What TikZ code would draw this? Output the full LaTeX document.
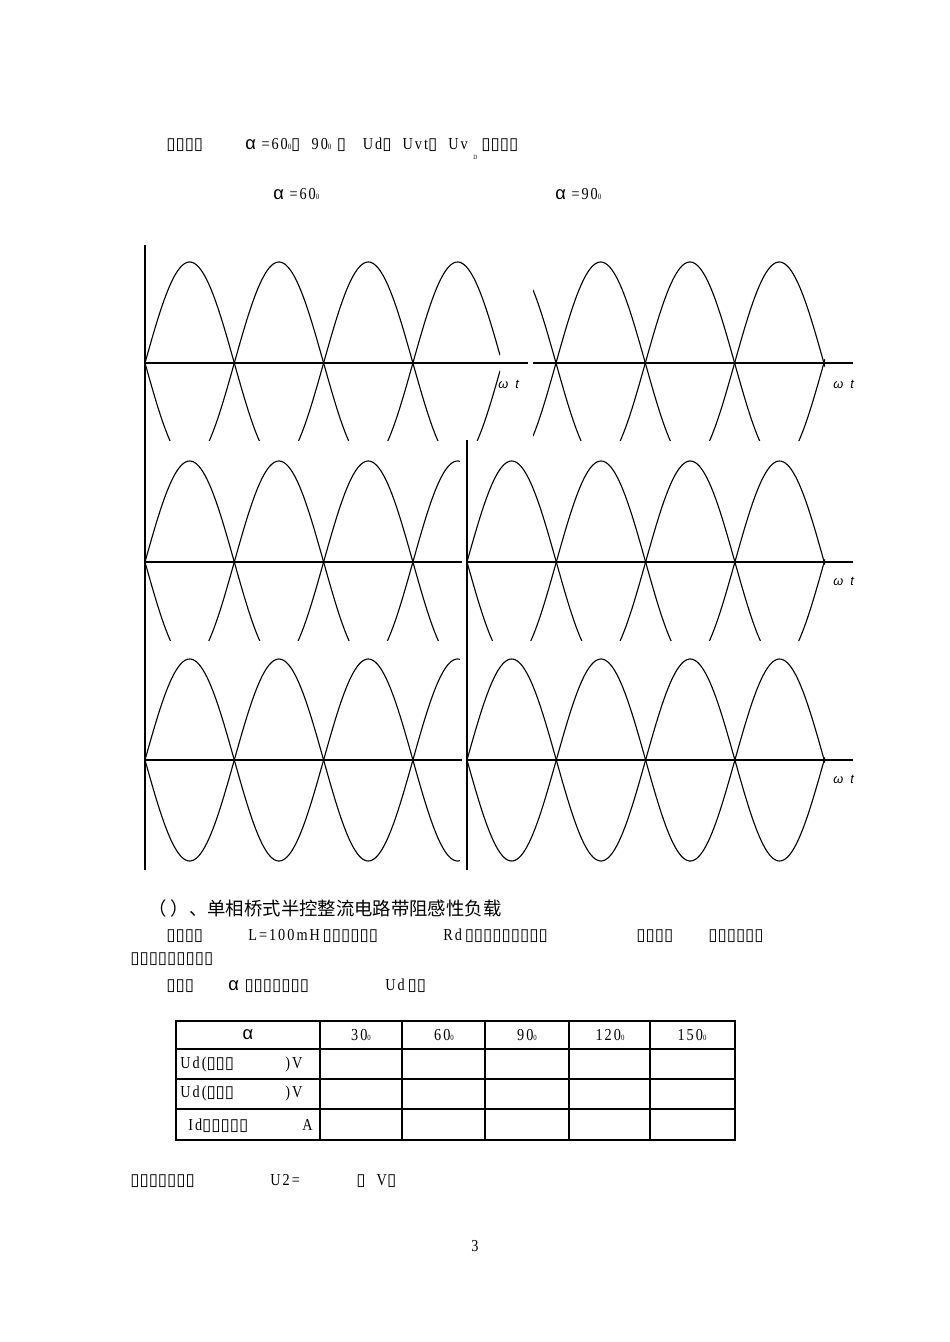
\documentclass[tikz,border=0pt]{standalone}
\usepackage{fontspec}
\setmainfont[FakeStretch=0.85,LetterSpace=12]{Liberation Serif}
\newfontfamily\cjk{Noto Sans CJK SC}
\newfontfamily\dvs{DejaVu Sans}
\newfontfamily\lsans{Liberation Sans}
\newcommand{\bx}{{\dvs\char"25AF}}
\newcommand{\al}{{\lsans\fontsize{11.5}{12}\selectfont\char"03B1}}
\newcommand{\dg}{{\fontsize{5}{5}\selectfont 0}}
\begin{document}
\begin{tikzpicture}[x=0.626pt,y=-0.626pt,
  txt/.style={anchor=base west,inner sep=0pt,font=\fontsize{10.5}{12}\selectfont},
  wv/.style={line width=0.7pt},
  ax/.style={line width=1pt}]
\useasboundingbox (0,0) rectangle (950,1342);
\newcommand{\panel}[7]{% x0, base, xa, xb, ya, yb, hline end
  \begin{scope}
  \clip (#3,#5) rectangle (#4,#6);
  \draw[wv] plot[domain=#3:#4,samples=220] (\x,{#2-101*sin((\x-#1)/89.3*180)});
  \draw[wv] plot[domain=#3:#4,samples=220] (\x,{#2+101*sin((\x-#1)/89.3*180)});
  \end{scope}
  \draw[ax] (#3,#2) -- (#7,#2);}
% panels
\panel{145}{363}{145}{500}{255}{440}{528}
\panel{556}{363}{533}{825}{255}{440}{853}
\panel{145}{562}{145}{460}{455}{640}{462}
\panel{467}{562}{467}{825}{455}{640}{853}
\panel{145}{760}{145}{460}{655}{865}{462}
\panel{467}{760}{467}{825}{655}{865}{853}
\draw[ax] (145,245) -- (145,870);
\draw[ax] (467,440) -- (467,870);
\foreach \n/\yy in {a/388,b/585,c/783}{
  \node[txt,font=\fontsize{8}{9}\selectfont\itshape\lsans] (wt\n) at (833,\yy) {ω\ \ t};}
\node[txt,font=\fontsize{8}{9}\selectfont\itshape\lsans] (wtl) at (498,388) {ω\ \ t};
% top text
\node[txt] (t1) at (166,150) {\bx\bx\bx\bx};
\node[txt] (t2) at (245,150) {\al\ =60\dg\bx\ \ 90\dg\ \bx\ \ \ Ud\bx\ \ Uvt\bx\ \ Uv};
\node[txt,font=\fontsize{4}{4}\selectfont] (t2d) at (473,160) {D};
\node[txt] (t3) at (481,150) {\bx\bx\bx\bx};
\node[txt] (t4) at (273,200) {\al\ =60\dg};
\node[txt] (t5) at (555,200) {\al\ =90\dg};
% section text
\node[txt,font=\fontsize{11.5}{13}\selectfont\cjk] (h1) at (148,915) {（\ ）、单相桥式半控整流电路带阻感性负载};
\node[txt] (p1) at (166,940) {\bx\bx\bx\bx};
\node[txt] (p2) at (248,940) {L=100mH\,\bx\bx\bx\bx\bx\bx};
\node[txt] (p3) at (443,940) {Rd\,\bx\bx\bx\bx\bx\bx\bx\bx\bx};
\node[txt] (p4) at (636,940) {\bx\bx\bx\bx};
\node[txt] (p5) at (708,940) {\bx\bx\bx\bx\bx\bx};
\node[txt] (p6) at (130,963) {\bx\bx\bx\bx\bx\bx\bx\bx\bx};
\node[txt] (p7) at (166,990) {\bx\bx\bx};
\node[txt] (p8) at (228,990) {\al\ \bx\bx\bx\bx\bx\bx\bx};
\node[txt] (p9) at (385,990) {Ud\,\bx\bx};
% table
\draw[line width=0.8pt] (176,1021) rectangle (735,1140);
\draw[line width=1.6pt] (735,1021) -- (735,1140);
\foreach \yy in {1049,1079,1109} \draw[line width=0.8pt] (176,\yy) -- (735,\yy);
\foreach \xx in {320,402,485,569,650} \draw[line width=0.8pt] (\xx,1021) -- (\xx,1140);
\node (ha) at (248,1035) {\al};
\foreach \xx/\v in {361/30,444/60,527/90,610/120,692/150}
  \node[font=\fontsize{10.5}{12}\selectfont] at (\xx,1035) {\v\dg};
\node[txt] (r1) at (180,1068) {Ud(\bx\bx\bx};
\node[txt] (r1b) at (285,1068) {)V};
\node[txt] (r2) at (180,1097) {Ud(\bx\bx\bx};
\node[txt] (r2b) at (285,1097) {)V};
\node[txt] (r3) at (188,1130) {Id\bx\bx\bx\bx\bx};
\node[txt] (r3b) at (302,1130) {A};
% bottom
\node[txt] (b1) at (130,1185) {\bx\bx\bx\bx\bx\bx\bx};
\node[txt] (b2) at (270,1185) {U2=};
\node[txt] (b3) at (356,1185) {\bx\ \ V\bx};
\node[txt] (pg) at (471,1251) {3};
\end{tikzpicture}
\end{document}
